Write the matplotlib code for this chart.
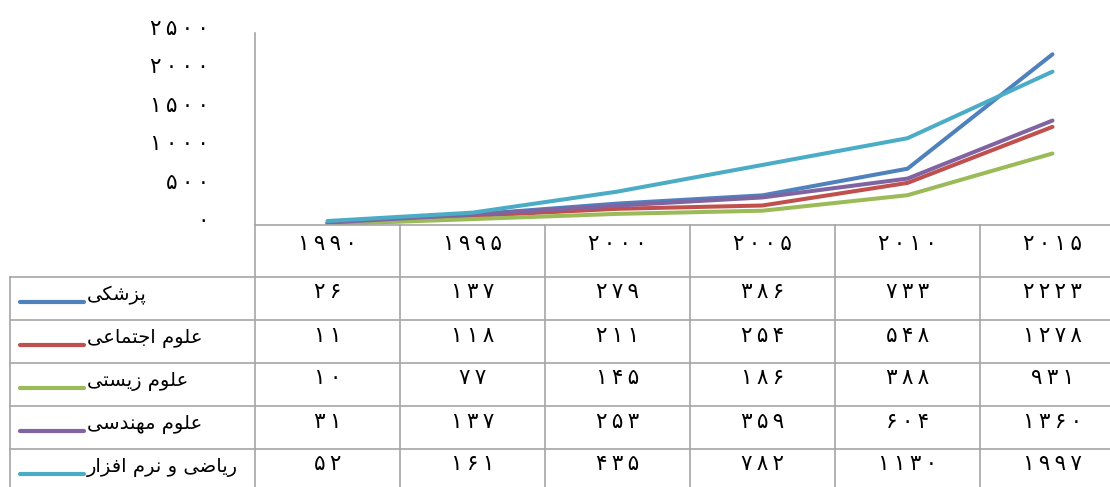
import numpy as np
import matplotlib
matplotlib.use("Agg")
import matplotlib.pyplot as plt
from matplotlib.transforms import ScaledTranslation

plt.rcParams['font.family'] = ['DejaVu Sans']

# data
years = [1990, 1995, 2000, 2005, 2010, 2015]
pezeshki = [26, 137, 279, 386, 733, 2223]
ejtemai = [11, 118, 211, 254, 548, 1278]
zisti = [10, 77, 145, 186, 388, 931]
mohandesi = [31, 137, 253, 359, 604, 1360]
riazi = [52, 161, 435, 782, 1130, 1997]
series_names = ['پزشکی', 'علوم اجتماعی', 'علوم زیستی', 'علوم مهندسی', 'ریاضی و نرم افزار']
series_vals = [pezeshki, ejtemai, zisti, mohandesi, riazi]
colors = ['#4F81BD', '#C0504D', '#9BBB59', '#8064A2', '#4BACC6']
yticks = [0, 500, 1000, 1500, 2000, 2500]

# persian digits, thin space between them like the original font's spacing
FA_DIGITS = str.maketrans('0123456789', '۰۱۲۳۴۵۶۷۸۹')
def fa(n):
    return '\u2009'.join(str(n).translate(FA_DIGITS))

# minimal arabic/persian shaping (isolated, final, initial, medial)
FORMS = {
    'ا': (0xFE8D, 0xFE8E), 'د': (0xFEA9, 0xFEAA), 'ر': (0xFEAD, 0xFEAE),
    'ز': (0xFEAF, 0xFEB0), 'ژ': (0xFB8A, 0xFB8B), 'و': (0xFEED, 0xFEEE),
    'ج': (0xFE9D, 0xFE9E, 0xFE9F, 0xFEA0), 'ت': (0xFE95, 0xFE96, 0xFE97, 0xFE98),
    'س': (0xFEB1, 0xFEB2, 0xFEB3, 0xFEB4), 'ش': (0xFEB5, 0xFEB6, 0xFEB7, 0xFEB8),
    'ض': (0xFEBD, 0xFEBE, 0xFEBF, 0xFEC0), 'ع': (0xFEC9, 0xFECA, 0xFECB, 0xFECC),
    'ف': (0xFED1, 0xFED2, 0xFED3, 0xFED4), 'ک': (0xFB8E, 0xFB8F, 0xFB90, 0xFB91),
    'ل': (0xFEDD, 0xFEDE, 0xFEDF, 0xFEE0), 'م': (0xFEE1, 0xFEE2, 0xFEE3, 0xFEE4),
    'ن': (0xFEE5, 0xFEE6, 0xFEE7, 0xFEE8), 'ه': (0xFEE9, 0xFEEA, 0xFEEB, 0xFEEC),
    'ی': (0xFBFC, 0xFBFD, 0xFBFE, 0xFBFF), 'پ': (0xFB56, 0xFB57, 0xFB58, 0xFB59),
}

def shape(word):
    out = []
    for i, c in enumerate(word):
        if c not in FORMS:
            out.append(c)
            continue
        f = FORMS[c]
        prev = word[i - 1] if i > 0 else None
        nxt = word[i + 1] if i + 1 < len(word) else None
        jp = prev in FORMS and len(FORMS[prev]) == 4
        jn = nxt in FORMS and len(f) == 4
        if jp and jn:
            g = f[3]
        elif jp:
            g = f[1]
        elif jn:
            g = f[2]
        else:
            g = f[0]
        out.append(chr(g))
    return ''.join(reversed(out))

# layout in pixels
W, H = 1110, 487
TAB_L, AX_L, COL_W = 10, 255, 145
AX_TOP, AX_BOT = 33, 225
HEAD_BOT, ROW_H = 277, 43
AX_R = AX_L + COL_W * len(years)
TAB_B = HEAD_BOT + ROW_H * len(series_names)
GRAY = '#A6A6A6'
NUM_FS = 15.5

fig = plt.figure(figsize=(W / 100, H / 100), dpi=100)

# table overlay in pixel coords
tab = fig.add_axes([0, 0, 1, 1])
tab.set_xlim(0, W)
tab.set_ylim(H, 0)
tab.axis('off')

ax = fig.add_axes([AX_L / W, 1 - AX_BOT / H, (AX_R - AX_L) / W, (AX_BOT - AX_TOP) / H])
x = np.arange(len(years))
for vals, c in zip(series_vals, colors):
    ax.plot(x, vals, color=c, lw=2.9, solid_capstyle='round')
ax.set_xlim(-0.5, len(years) - 0.5)
ax.set_ylim(0, 2500)
for s in ['top', 'right']:
    ax.spines[s].set_visible(False)
for s in ['left', 'bottom']:
    ax.spines[s].set_color(GRAY)
    ax.spines[s].set_linewidth(1.2)
ax.set_xticks([])
ax.set_yticks(yticks)
ax.set_yticklabels([fa(v) for v in yticks], fontsize=NUM_FS)
ax.tick_params(axis='y', length=0, pad=33)
for lab in ax.get_yticklabels():
    lab.set_transform(lab.get_transform() + ScaledTranslation(0, 6 / 100, fig.dpi_scale_trans))
ax.patch.set_alpha(0)

# table grid
lk = dict(color=GRAY, lw=1.2)
tab.plot([TAB_L, TAB_L], [HEAD_BOT, TAB_B], **lk)
tab.plot([AX_L, AX_L], [AX_BOT, TAB_B], **lk)
for k in range(1, len(years) + 1):
    xx = AX_L + COL_W * k
    tab.plot([xx, xx], [AX_BOT, TAB_B], **lk)
for r in range(len(series_names) + 1):
    yy = HEAD_BOT + ROW_H * r
    tab.plot([TAB_L, AX_R], [yy, yy], **lk)

# header (years)
for i, yr in enumerate(years):
    cx = AX_L + COL_W * (i + 0.5)
    tab.text(cx, (AX_BOT + HEAD_BOT) / 2 - 7, fa(yr), ha='center', va='center', fontsize=NUM_FS)

# rows
for r, (name, vals, c) in enumerate(zip(series_names, series_vals, colors)):
    cy = HEAD_BOT + ROW_H * (r + 0.5)
    tab.plot([20, 84], [cy + 3, cy + 3], color=c, lw=3, solid_capstyle='round')
    tab.text(87, cy - 3, shape(name), ha='left', va='center', fontsize=14)
    for i, v in enumerate(vals):
        cx = AX_L + COL_W * (i + 0.5)
        tab.text(cx, cy - 6, fa(v), ha='center', va='center', fontsize=NUM_FS)

fig.savefig('out.png', dpi=100)
